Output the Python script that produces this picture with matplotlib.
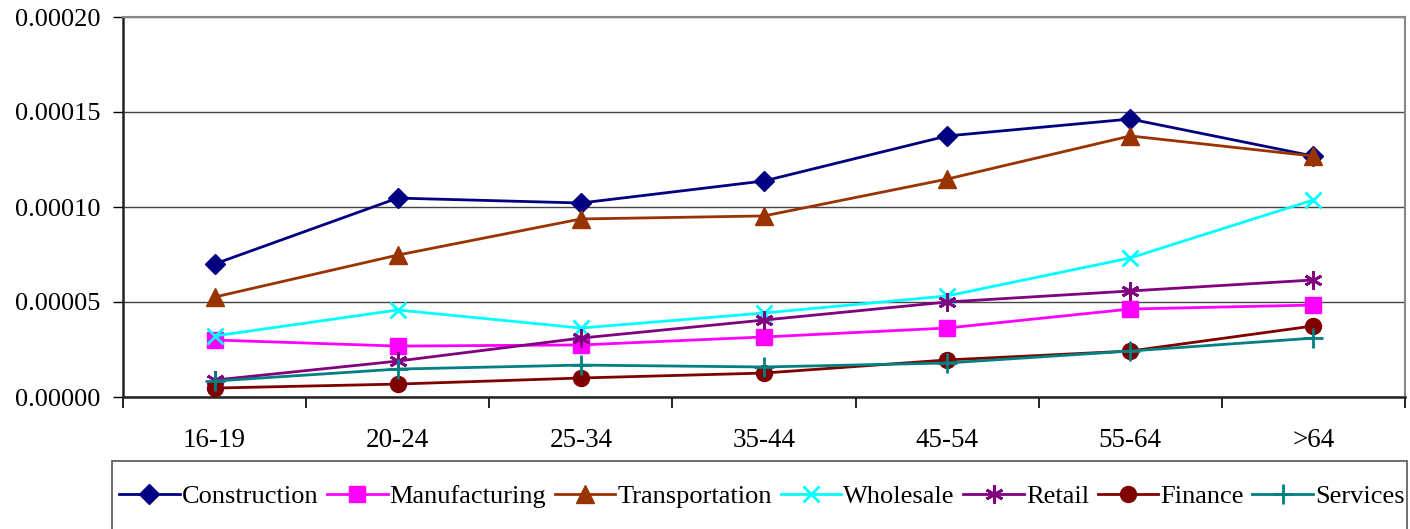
import matplotlib
matplotlib.use('Agg')
import matplotlib.pyplot as plt
from matplotlib.patches import Rectangle
import numpy as np

age_groups = ['16-19', '20-24', '25-34', '35-44', '45-54', '55-64', '>64']

construction = [7.0e-5, 10.47e-5, 10.21e-5, 11.37e-5, 13.74e-5, 14.63e-5, 12.68e-5]
manufacturing = [3.0e-5, 2.68e-5, 2.74e-5, 3.16e-5, 3.63e-5, 4.63e-5, 4.84e-5]
transportation = [5.26e-5, 7.47e-5, 9.37e-5, 9.53e-5, 11.47e-5, 13.74e-5, 12.68e-5]
wholesale = [3.21e-5, 4.58e-5, 3.63e-5, 4.42e-5, 5.32e-5, 7.32e-5, 10.37e-5]
retail = [0.89e-5, 1.89e-5, 3.10e-5, 4.05e-5, 5.0e-5, 5.58e-5, 6.16e-5]
finance = [0.47e-5, 0.68e-5, 1.0e-5, 1.26e-5, 1.95e-5, 2.42e-5, 3.74e-5]
services = [0.84e-5, 1.47e-5, 1.68e-5, 1.58e-5, 1.79e-5, 2.42e-5, 3.10e-5]

series = [
    ('Construction', construction, '#000080', 'D', 10),
    ('Manufacturing', manufacturing, '#FF00FF', 's', 11.5),
    ('Transportation', transportation, '#993300', '^', 13),
    ('Wholesale', wholesale, '#00FFFF', 'x', 11),
    ('Retail', retail, '#800080', (6, 2, 0), 13),
    ('Finance', finance, '#800000', 'o', 11.5),
    ('Services', services, '#008080', '+', 14),
]

plt.rcParams['font.family'] = ['Liberation Serif', 'DejaVu Serif']

fig = plt.figure(figsize=(14.1, 5.29), dpi=100)
ax = fig.add_axes([123 / 1410, 132 / 529, 1282 / 1410, 380 / 529])

x = np.arange(len(age_groups))
for name, vals, col, mk, ms in series:
    thin = mk in ('x', '+') or isinstance(mk, tuple)
    ax.plot(x, vals, color=col, linewidth=2, marker=mk, markersize=ms,
            markeredgewidth=2 if thin else 1,
            markerfacecolor=col, markeredgecolor=col, label=name, zorder=3)

ax.set_xlim(-0.5, len(age_groups) - 0.5)
ax.set_ylim(0, 0.0002)
yticks = np.arange(0, 0.00021, 0.00005)
ax.set_yticks(yticks)
ax.set_yticklabels([f'{v:.5f}' for v in yticks])
ax.yaxis.grid(True, color='#444444', linewidth=1)
ax.set_axisbelow(True)

# tick marks between categories, labels centred under each group
ax.set_xticks(np.arange(-0.5, len(age_groups), 1.0))
ax.set_xticklabels([])
ax.set_xticks(x, minor=True)
ax.set_xticklabels(age_groups, minor=True)
ax.tick_params(axis='x', which='major', length=8, width=1.2, direction='out')
ax.tick_params(axis='x', which='minor', length=0, pad=22, labelsize=19.5)
ax.tick_params(axis='y', length=7, width=1, direction='out', pad=9, labelsize=19)

for side in ('left', 'bottom'):
    ax.spines[side].set_color('#222222')
    ax.spines[side].set_linewidth(1.8)
for side in ('top', 'right'):
    ax.spines[side].set_color('#888888')
    ax.spines[side].set_linewidth(1.5)

# legend box drawn separately so it can run off the bottom edge
fig.patches.append(Rectangle((112 / 1410, -0.02), (1407 - 112) / 1410, (529 - 461) / 529 + 0.02,
                             transform=fig.transFigure, facecolor='none',
                             edgecolor='#555555', linewidth=1.2))
fig.legend(loc='center left', bbox_to_anchor=(119 / 1410, 1 - 496 / 529),
           ncol=7, fontsize=19, frameon=False,
           handlelength=2.3, handletextpad=0.08, columnspacing=0.32,
           borderpad=0, borderaxespad=0)

fig.savefig('out.png', dpi=100)
